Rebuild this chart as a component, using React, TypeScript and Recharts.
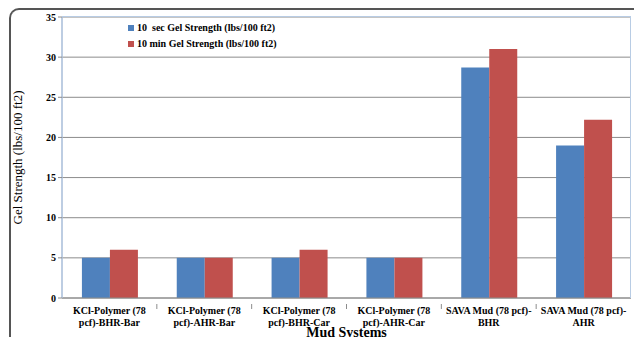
import React from 'react';
import { BarChart, Bar, XAxis, YAxis, CartesianGrid } from 'recharts';

const categories = [
  ['KCl-Polymer (78', 'pcf)-BHR-Bar'],
  ['KCl-Polymer (78', 'pcf)-AHR-Bar'],
  ['KCl-Polymer (78', 'pcf)-BHR-Car'],
  ['KCl-Polymer (78', 'pcf)-AHR-Car'],
  ['SAVA Mud (78 pcf)-', 'BHR'],
  ['SAVA Mud (78 pcf)-', 'AHR'],
];
const gel10sec = [5, 5, 5, 5, 28.7, 19];
const gel10min = [6, 5, 6, 5, 31, 22.2];
const yTicks = [0, 5, 10, 15, 20, 25, 30, 35];

const series = [
  { key: 'sec', name: '10  sec Gel Strength (lbs/100 ft2)', color: '#4F81BD' },
  { key: 'min', name: '10 min Gel Strength (lbs/100 ft2)', color: '#C0504D' },
];

const data = categories.map((c, i) => ({
  name: c.join('\n'),
  sec: gel10sec[i],
  min: gel10min[i],
}));

const W = 634;
const H = 337;
const M = { top: 17, right: 3, left: 0, bottom: 0 };
const Y_AXIS_W = 62;
const X_AXIS_H = 39;
const band = (W - M.left - M.right - Y_AXIS_W) / categories.length;

const FONT = '"Liberation Serif", "Times New Roman", serif';

const CatTick = (props: any) => {
  const { x, y, payload, index } = props;
  const lines = String(payload.value).split('\n');
  return (
    <g>
      {index < categories.length - 1 && (
        <line x1={x + band / 2} x2={x + band / 2} y1={y - 2} y2={y + 3} stroke="#8c8c8c" />
      )}
      <text x={x} y={y + 8} textAnchor="middle" fontFamily={FONT} fontWeight="bold" fontSize={10} fill="#000">
        {lines.map((l, i) => (
          <tspan key={i} x={x} dy={i === 0 ? 0 : 11.5}>{l}</tspan>
        ))}
      </text>
    </g>
  );
};

export default function App() {
  return (
    <div style={{ position: 'fixed', left: 0, top: 0, width: W, height: H, background: '#fff', overflow: 'hidden' }}>
      <div
        style={{
          position: 'absolute',
          left: 9,
          top: 8,
          width: W,
          height: H,
          borderTop: '2px solid #555',
          borderLeft: '2px solid #555',
          borderTopLeftRadius: 10,
        }}
      />
      <div style={{ position: 'absolute', left: 0, top: 0 }}>
        <BarChart width={W} height={H} data={data} margin={M} barCategoryGap="21%" barGap={0}>
          <CartesianGrid vertical={false} stroke="#8c8c8c" strokeWidth={1} />
          <XAxis
            dataKey="name"
            height={X_AXIS_H}
            interval={0}
            tick={<CatTick />}
            tickLine={false}
            axisLine={{ stroke: '#8c8c8c' }}
            label={{
              value: 'Mud Systems',
              position: 'bottom',
              offset: -10,
              style: { fontFamily: FONT, fontWeight: 'bold', fontSize: 14, fill: '#000' },
            }}
          />
          <YAxis
            width={Y_AXIS_W}
            domain={[0, 35]}
            ticks={yTicks}
            interval={0}
            tickSize={4}
            tickLine={{ stroke: '#8c8c8c' }}
            axisLine={{ stroke: '#a7bcd8', strokeWidth: 1.5 }}
            tick={{ fontFamily: FONT, fontWeight: 'bold', fontSize: 10, fill: '#000' }}
            label={{
              value: 'Gel Strength (lbs/100 ft2)',
              angle: -90,
              position: 'insideLeft',
              offset: 17,
              style: { fontFamily: FONT, fontSize: 13, fill: '#000', textAnchor: 'middle' },
            }}
          />
          {series.map((s) => (
            <Bar key={s.key} dataKey={s.key} name={s.name} fill={s.color} isAnimationActive={false} />
          ))}
        </BarChart>
      </div>
      <div style={{ position: 'absolute', left: 128, top: 20, fontFamily: FONT, fontWeight: 'bold', fontSize: 10, lineHeight: '16px', color: '#000' }}>
        {series.map((s) => (
          <div key={s.key} style={{ display: 'flex', alignItems: 'center', whiteSpace: 'pre' }}>
            <span style={{ display: 'inline-block', width: 6, height: 6, background: s.color, marginRight: 3 }} />
            {s.name}
          </div>
        ))}
      </div>
      <div
        style={{
          position: 'absolute',
          left: W - M.right - 1,
          top: M.top,
          width: 0,
          height: H - M.top - X_AXIS_H,
          borderLeft: '1.5px solid #b8cce4',
        }}
      />
      <div
        style={{
          position: 'absolute',
          left: Y_AXIS_W,
          top: M.top - 1,
          width: W - M.right - Y_AXIS_W,
          height: 0,
          borderTop: '1px solid #b8cce4',
        }}
      />
    </div>
  );
}
